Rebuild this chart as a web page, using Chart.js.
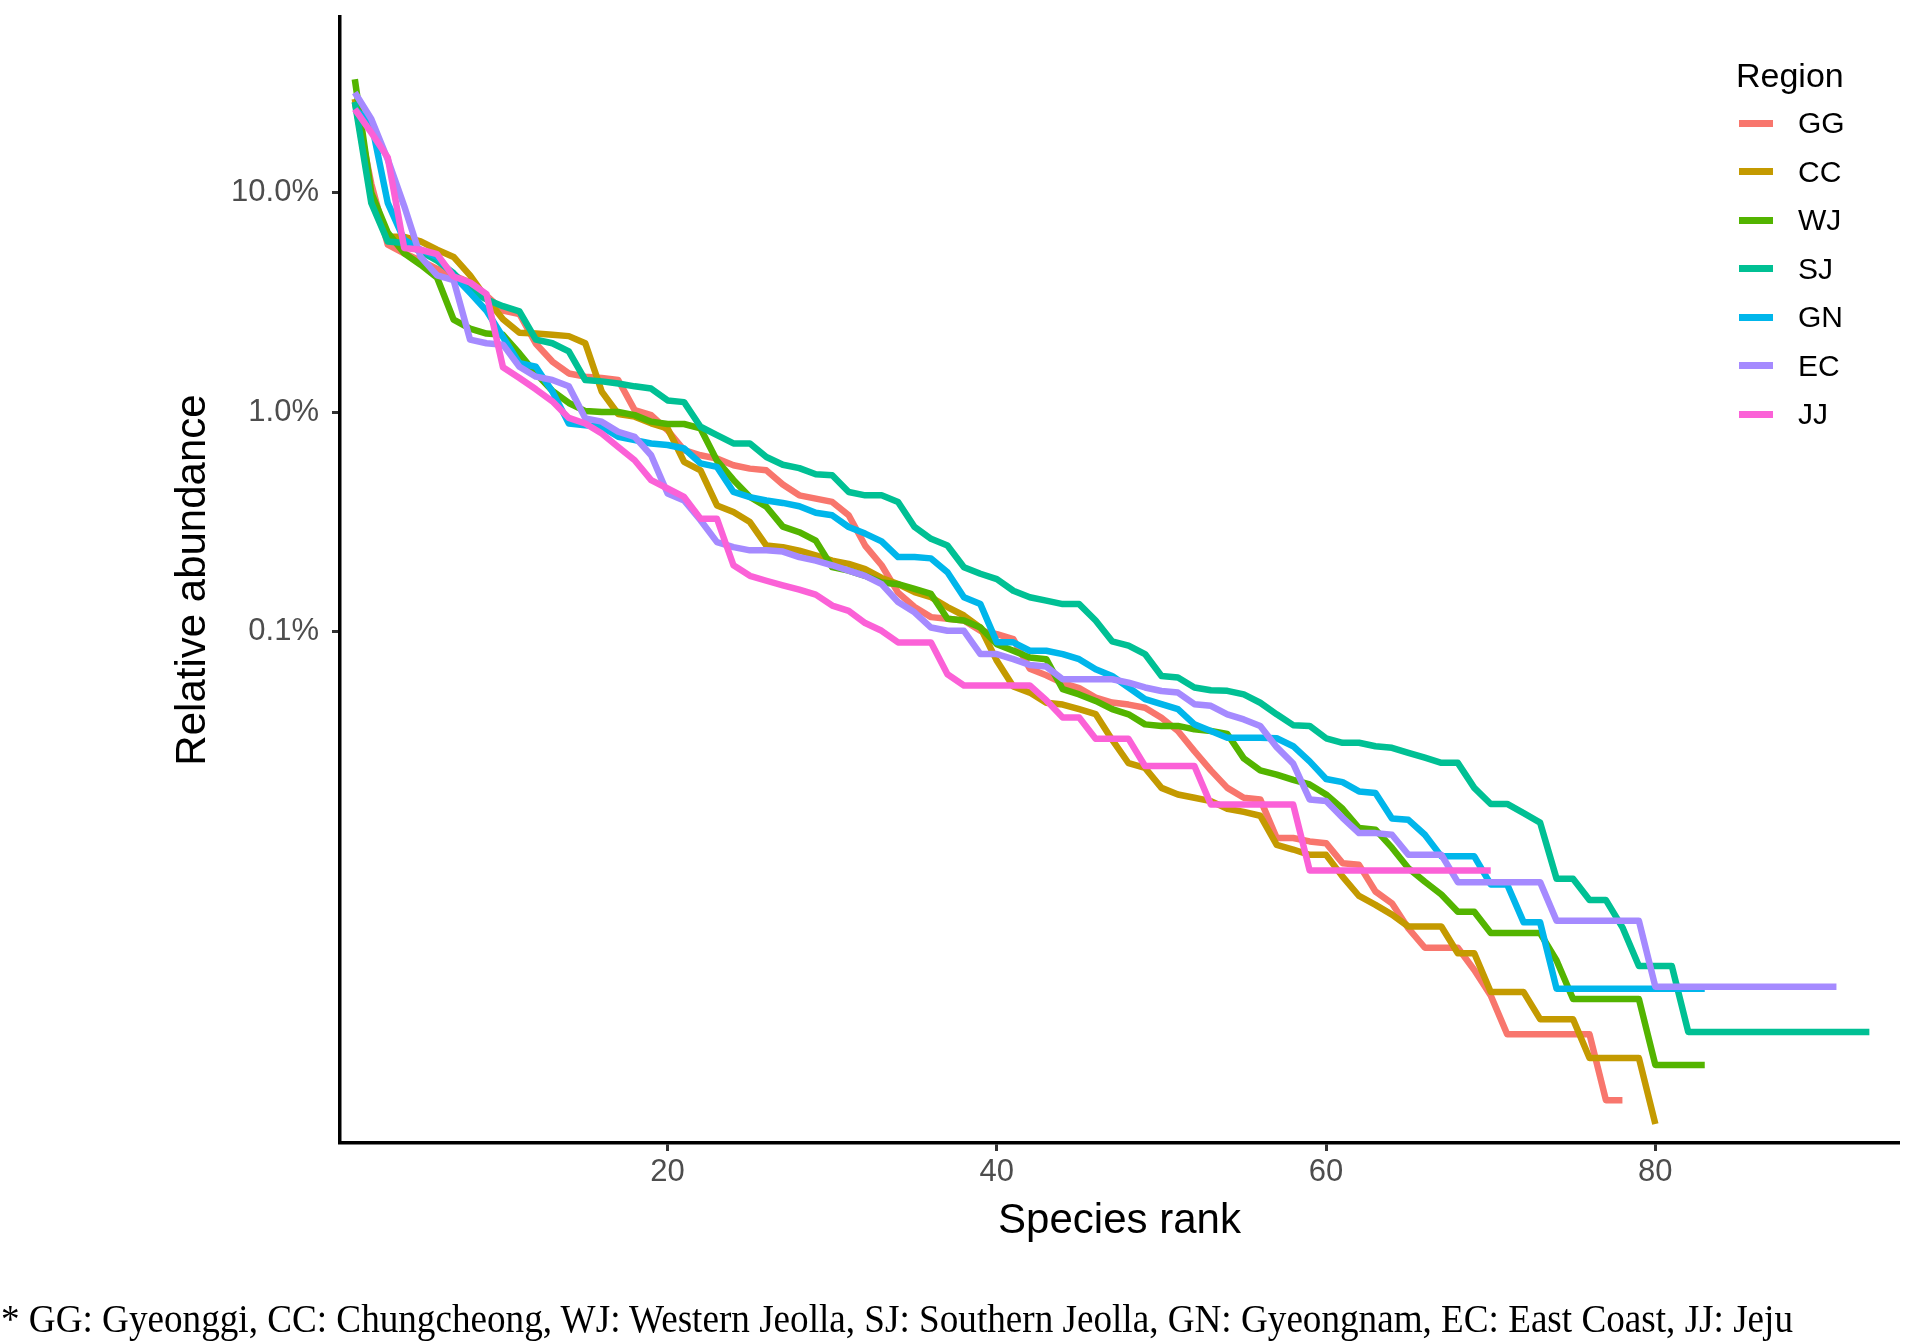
<!DOCTYPE html>
<html>
<head>
<meta charset="utf-8">
<script src="https://cdn.jsdelivr.net/npm/chart.js@4.4.1/dist/chart.umd.min.js"></script>
<style>
  html, body { margin: 0; padding: 0; background: #ffffff; }
  #wrap { position: relative; width: 1915px; height: 1342px; overflow: hidden; background: #ffffff; }
  #c { position: absolute; left: 0; top: 0; }
  .lg { position: absolute; font-family: "Liberation Sans", Arial, sans-serif; color: #000; line-height: 1; white-space: nowrap; }
  .sw { position: absolute; height: 7px; }
  #foot { position: absolute; left: 1px; top: 1298px; font-family: "Liberation Serif", "Times New Roman", serif;
          font-size: 41px; line-height: 1; white-space: nowrap; color: #000; transform-origin: 0 0; }
</style>
</head>
<body>
<div id="wrap">
  <canvas id="c" width="1915" height="1342"></canvas>
  <div id="legend"></div>
  <div id="foot">* GG: Gyeonggi, CC: Chungcheong, WJ: Western Jeolla, SJ: Southern Jeolla, GN: Gyeongnam, EC: East Coast, JJ: Jeju</div>
</div>
<script>
// ---- Data: relative abundance (%) by species rank (index 0 = rank 1) ----
const regions = ['GG', 'CC', 'WJ', 'SJ', 'GN', 'EC', 'JJ'];
const colors  = ['#F8766D', '#C49A00', '#53B400', '#00C094', '#00B6EB', '#A58AFF', '#FB61D7'];

const GG = [26, 11, 5.8, 5.3, 4.9, 4.5, 4.2, 3.9, 3.4, 2.9,
  2.8, 2.05, 1.7, 1.5, 1.45, 1.43, 1.40, 1.02, 0.968, 0.826,
  0.670, 0.635, 0.613, 0.572, 0.552, 0.542, 0.467, 0.417, 0.403, 0.389,
  0.338, 0.246, 0.20, 0.15, 0.129, 0.116, 0.114, 0.112, 0.1005, 0.097,
  0.092, 0.0675, 0.063, 0.058, 0.055, 0.0498, 0.0473, 0.0463, 0.0448, 0.0403,
  0.0351, 0.0284, 0.0232, 0.0193, 0.0174, 0.0171, 0.0114, 0.0114, 0.0110, 0.0108,
  0.00875, 0.0086, 0.0065, 0.00574, 0.00441, 0.0036, 0.0036, 0.0036, 0.00285, 0.00218,
  0.00145, 0.00145, 0.00145, 0.00145, 0.00145, 0.00145, 0.000725, 0.000725];

const CC = [26.8, 9.5, 6.3, 6.3, 6.0, 5.5, 5.1, 4.2, 3.3, 2.65,
  2.3, 2.28, 2.25, 2.22, 2.06, 1.24, 0.98, 0.953, 0.888, 0.842,
  0.593, 0.542, 0.375, 0.350, 0.315, 0.246, 0.242, 0.233, 0.222, 0.210,
  0.203, 0.192, 0.175, 0.164, 0.151, 0.143, 0.129, 0.118, 0.104, 0.0733,
  0.056, 0.0525, 0.0472, 0.0463, 0.0441, 0.0419, 0.032, 0.025, 0.0238, 0.0193,
  0.0180, 0.0174, 0.0168, 0.0155, 0.0150, 0.0144, 0.0106, 0.0101, 0.00955, 0.00955,
  0.0076, 0.0062, 0.00565, 0.0051, 0.0045, 0.0045, 0.0045, 0.0034, 0.0034, 0.00226,
  0.00226, 0.00226, 0.0017, 0.0017, 0.0017, 0.00113, 0.00113, 0.00113, 0.00113, 0.000565];

const WJ = [33, 10, 6.6, 5.3, 4.7, 4.1, 2.64, 2.4, 2.28, 2.25,
  1.85, 1.5, 1.25, 1.10, 1.01, 1.0, 1.0, 0.968, 0.904, 0.882,
  0.882, 0.842, 0.60, 0.49, 0.41, 0.37, 0.30, 0.283, 0.259, 0.196,
  0.189, 0.179, 0.167, 0.164, 0.156, 0.148, 0.114, 0.112, 0.104, 0.0873,
  0.0815, 0.0759, 0.0746, 0.0544, 0.0515, 0.0481, 0.0441, 0.0418, 0.0376, 0.0370,
  0.0370, 0.0357, 0.0351, 0.0340, 0.0263, 0.0232, 0.0222, 0.0210, 0.0200, 0.0180,
  0.0155, 0.01265, 0.01245, 0.0103, 0.0083, 0.0072, 0.0063, 0.00525, 0.00525, 0.0042,
  0.0042, 0.0042, 0.0042, 0.00315, 0.0021, 0.0021, 0.0021, 0.0021, 0.0021, 0.00105,
  0.00105, 0.00105, 0.00105];

const SJ = [26, 9.0, 6.0, 5.9, 5.4, 4.9, 4.3, 3.6, 3.26, 3.04,
  2.88, 2.14, 2.06, 1.89, 1.40, 1.38, 1.35, 1.31, 1.28, 1.13,
  1.11, 0.857, 0.785, 0.719, 0.719, 0.624, 0.575, 0.555, 0.52, 0.515,
  0.432, 0.417, 0.417, 0.389, 0.299, 0.264, 0.246, 0.196, 0.183, 0.173,
  0.153, 0.143, 0.138, 0.133, 0.133, 0.112, 0.090, 0.086, 0.0787, 0.0625,
  0.0615, 0.0554, 0.0538, 0.0535, 0.0515, 0.0472, 0.0418, 0.0373, 0.0370, 0.0325,
  0.0310, 0.0310, 0.0299, 0.0294, 0.0279, 0.0265, 0.0251, 0.0251, 0.0193, 0.0163,
  0.0163, 0.0148, 0.0134, 0.00743, 0.00743, 0.00594, 0.00594, 0.00446, 0.00297, 0.00297,
  0.00297, 0.001485, 0.001485, 0.001485, 0.001485, 0.001485, 0.001485, 0.001485, 0.001485, 0.001485,
  0.001485, 0.001485, 0.001485];

const GN = [24, 21, 9, 6.1, 5.5, 5.1, 4.2, 3.5, 2.9, 2.2,
  1.67, 1.61, 1.24, 0.887, 0.871, 0.857, 0.771, 0.745, 0.719, 0.707,
  0.682, 0.583, 0.562, 0.432, 0.409, 0.395, 0.385, 0.372, 0.347, 0.338,
  0.299, 0.279, 0.257, 0.218, 0.218, 0.215, 0.186, 0.143, 0.133, 0.089,
  0.089, 0.0815, 0.0815, 0.0787, 0.0746, 0.0671, 0.0625, 0.0554, 0.0490, 0.0465,
  0.0441, 0.0376, 0.0351, 0.0327, 0.0327, 0.0327, 0.0325, 0.0299, 0.0255, 0.0212,
  0.0205, 0.0186, 0.0183, 0.0140, 0.0138, 0.0118, 0.0094, 0.0094, 0.0094, 0.0070,
  0.0070, 0.0047, 0.0047, 0.00234, 0.00234, 0.00234, 0.00234, 0.00234, 0.00234, 0.00234,
  0.00234, 0.00234, 0.00234];

const EC = [28.7, 21.7, 14.2, 8.7, 5.1, 4.2, 4.0, 2.14, 2.06, 2.03,
  1.61, 1.45, 1.40, 1.31, 0.936, 0.904, 0.813, 0.771, 0.635, 0.425,
  0.395, 0.321, 0.255, 0.242, 0.234, 0.234, 0.231, 0.218, 0.210, 0.200,
  0.189, 0.179, 0.164, 0.136, 0.122, 0.104, 0.1005, 0.1005, 0.0787, 0.0787,
  0.0746, 0.0702, 0.069, 0.0604, 0.0604, 0.0604, 0.0604, 0.0583, 0.0554, 0.0534,
  0.0525, 0.0465, 0.0457, 0.0418, 0.0396, 0.0370, 0.0296, 0.0249, 0.0171, 0.0168,
  0.0141, 0.0120, 0.0120, 0.0118, 0.00956, 0.00956, 0.00956, 0.00717, 0.00717, 0.00717,
  0.00717, 0.00717, 0.00717, 0.00478, 0.00478, 0.00478, 0.00478, 0.00478, 0.00478, 0.00239,
  0.00239, 0.00239, 0.00239, 0.00239, 0.00239, 0.00239, 0.00239, 0.00239, 0.00239, 0.00239,
  0.00239];

const JJ = [24.1, 18.8, 14.5, 5.6, 5.5, 5.25, 4.15, 3.9, 3.45, 1.6,
  1.43, 1.27, 1.12, 0.94, 0.887, 0.798, 0.693, 0.603, 0.489, 0.448,
  0.410, 0.326, 0.326, 0.200, 0.179, 0.170, 0.162, 0.155, 0.147, 0.131,
  0.124, 0.109, 0.1005, 0.0889, 0.0889, 0.0889, 0.0637, 0.0566, 0.0566, 0.0566,
  0.0566, 0.0566, 0.0485, 0.0404, 0.0404, 0.0323, 0.0323, 0.0323, 0.0243, 0.0243,
  0.0243, 0.0243, 0.0162, 0.0162, 0.0162, 0.0162, 0.0162, 0.0162, 0.0081, 0.0081,
  0.0081, 0.0081, 0.0081, 0.0081, 0.0081, 0.0081, 0.0081, 0.0081, 0.0081, 0.0081];

const seriesValues = [GG, CC, WJ, SJ, GN, EC, JJ];
const yTicks = [0.1, 1, 10];
const xTicks = [20, 40, 60, 80];
const legendTitle = 'Region';
const xTitle = 'Species rank';
const yTitle = 'Relative abundance';

// ---- Chart ----
const datasets = regions.map((name, i) => ({
  label: name,
  data: seriesValues[i].map((v, k) => ({ x: k + 1, y: v })),
  borderColor: colors[i],
  backgroundColor: colors[i],
  borderWidth: 6.5,
  pointRadius: 0,
  pointHoverRadius: 0,
  tension: 0,
  fill: false,
  borderJoinStyle: 'round',
  borderCapStyle: 'butt',
  order: regions.length - 1 - i
}));

function zeroPad(ax) {
  ax.paddingTop = 0; ax.paddingBottom = 0; ax.paddingLeft = 0; ax.paddingRight = 0;
}

new Chart(document.getElementById('c'), {
  type: 'line',
  data: { datasets },
  options: {
    responsive: false,
    devicePixelRatio: 1,
    animation: false,
    layout: { padding: { left: 0, right: 16, top: 17, bottom: 0 } },
    plugins: { legend: { display: false }, tooltip: { enabled: false } },
    scales: {
      x: {
        type: 'linear',
        min: 0.1,
        max: 94.8,
        bounds: 'data',
        afterBuildTicks: (ax) => { ax.ticks = xTicks.map(v => ({ value: v })); },
        afterFit: (ax) => { ax.height = 199; zeroPad(ax); },
        ticks: {
          callback: (v) => String(v),
          color: '#4D4D4D',
          font: { family: '"Liberation Sans", Arial, sans-serif', size: 31 },
          padding: 3,
          maxRotation: 0,
          autoSkip: false
        },
        grid: { drawOnChartArea: false, drawTicks: true, tickLength: 8, tickColor: '#333333', tickWidth: 3 },
        border: { display: true, color: '#000000', width: 3.5 },
        title: {
          display: true, text: xTitle, color: '#000000',
          font: { family: '"Liberation Sans", Arial, sans-serif', size: 42 },
          padding: { top: 0, bottom: 95 }
        }
      },
      y: {
        type: 'logarithmic',
        min: 0.000463,
        max: 63.4,
        bounds: 'data',
        afterBuildTicks: (ax) => { ax.ticks = yTicks.map(v => ({ value: v })); },
        afterFit: (ax) => { ax.width = 340; zeroPad(ax); },
        ticks: {
          callback: (v) => Number(v).toFixed(1) + '%',
          color: '#4D4D4D',
          font: { family: '"Liberation Sans", Arial, sans-serif', size: 31 },
          padding: 13,
          autoSkip: false
        },
        grid: { drawOnChartArea: false, drawTicks: true, tickLength: 8, tickColor: '#333333', tickWidth: 3 },
        border: { display: true, color: '#000000', width: 3.5 },
        title: {
          display: true, text: yTitle, color: '#000000',
          font: { family: '"Liberation Sans", Arial, sans-serif', size: 42 },
          padding: { top: 168, bottom: 0 }
        }
      }
    }
  }
});

// ---- Legend (HTML) ----
const lg = document.getElementById('legend');
const t = document.createElement('div');
t.className = 'lg';
t.style.fontSize = '34px';
t.style.left = '1736px';
t.style.top = (75 - 0.4885 * 34) + 'px';
t.textContent = legendTitle;
lg.appendChild(t);
regions.forEach((name, i) => {
  const cy = 123 + i * 48.5;
  const sw = document.createElement('div');
  sw.className = 'sw';
  sw.style.left = '1739px';
  sw.style.width = '34px';
  sw.style.top = (cy - 3.5) + 'px';
  sw.style.background = colors[i];
  lg.appendChild(sw);
  const l = document.createElement('div');
  l.className = 'lg';
  l.style.fontSize = '30px';
  l.style.left = '1798px';
  l.style.top = (cy - 0.4885 * 30) + 'px';
  l.textContent = name;
  lg.appendChild(l);
});

// ---- Footnote width fit ----
const foot = document.getElementById('foot');
const w = foot.getBoundingClientRect().width;
if (w > 0) foot.style.transform = 'scaleX(' + (1792 / w) + ')';
</script>
</body>
</html>
